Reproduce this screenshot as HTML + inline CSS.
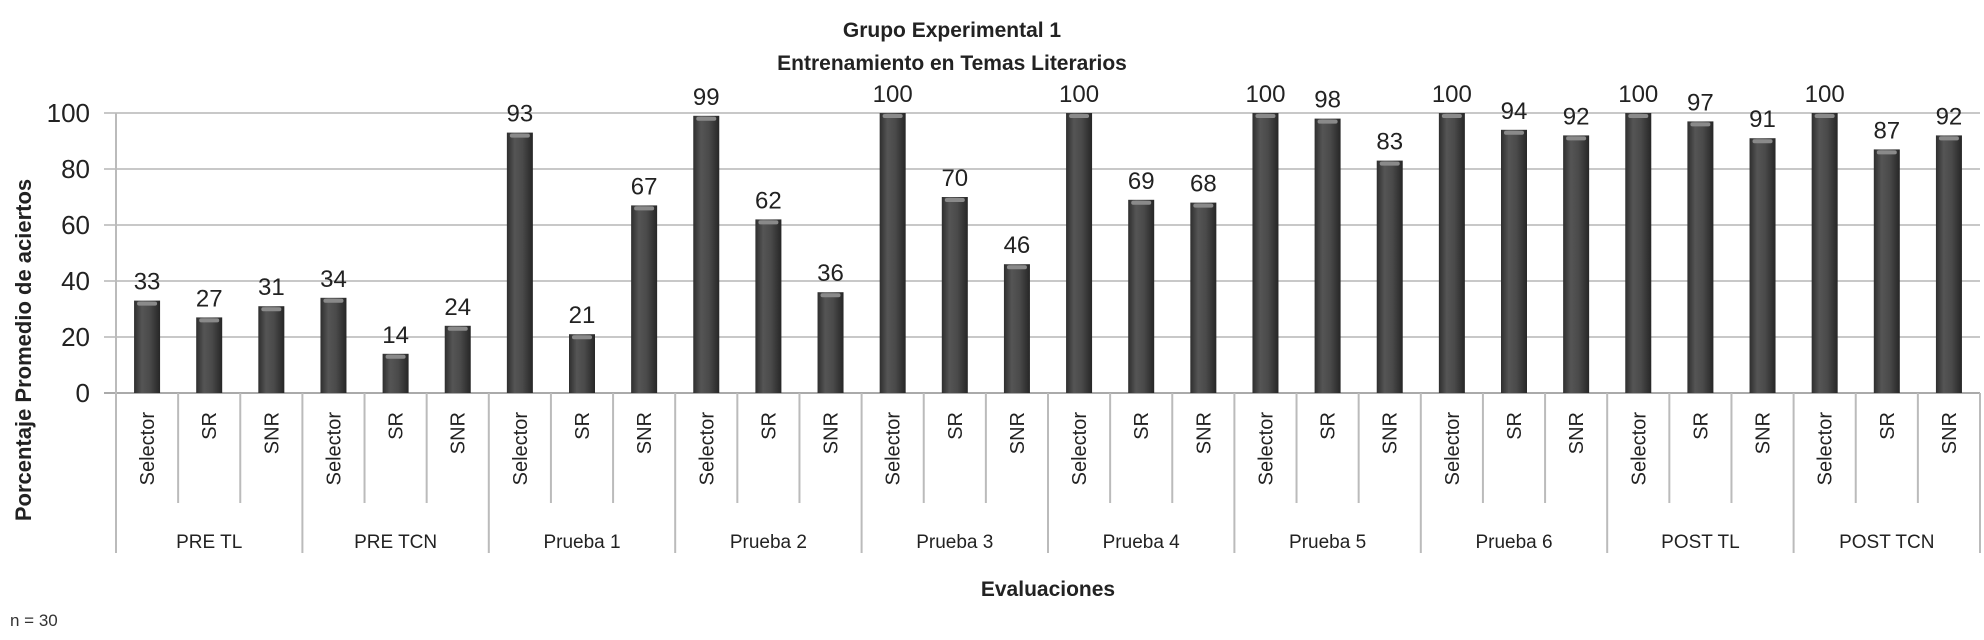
<!DOCTYPE html>
<html><head><meta charset="utf-8"><style>
body{margin:0;background:#fff;width:1984px;height:640px;overflow:hidden}
svg{display:block;font-family:"Liberation Sans",sans-serif}
</style></head><body>
<svg id="chart" width="1984" height="640">
<defs>
<linearGradient id="bg" x1="0" x2="1" y1="0" y2="0">
<stop offset="0" stop-color="#2e2e2e"/><stop offset="0.3" stop-color="#555"/><stop offset="0.6" stop-color="#4a4a4a"/><stop offset="1" stop-color="#262626"/>
</linearGradient>
</defs>
<text x="952" y="37" text-anchor="middle" font-size="21" font-weight="bold" fill="#222">Grupo Experimental 1</text>
<text x="952" y="70" text-anchor="middle" font-size="21" font-weight="bold" fill="#222">Entrenamiento en Temas Literarios</text>
<text transform="translate(31,350) rotate(-90)" text-anchor="middle" font-size="22" font-weight="bold" fill="#222">Porcentaje Promedio de aciertos</text>
<text x="1048" y="596" text-anchor="middle" font-size="21" font-weight="bold" fill="#222">Evaluaciones</text>
<text x="10" y="626" font-size="17" fill="#333">n = 30</text>
<g id="grid"></g><g id="axes"></g><g id="bars"></g>
</svg>
<script>
const groups=["PRE TL","PRE TCN","Prueba 1","Prueba 2","Prueba 3","Prueba 4","Prueba 5","Prueba 6","POST TL","POST TCN"];
const subs=["Selector","SR","SNR"];
const selectorVals=[33,34,93,99,100,100,100,100,100,100];
const srVals=[27,14,21,62,70,69,98,94,97,87];
const snrVals=[31,24,67,36,46,68,83,92,91,92];
const yTicks=[0,20,40,60,80,100];

const NS="http://www.w3.org/2000/svg";
const X0=116,X1=1980,Y0=393,Y100=113;
const y=v=>Y0-(v/100)*(Y0-Y100);
const gw=(X1-X0)/groups.length, sw=gw/3;
function mk(tag,attrs,parent,txt){const e=document.createElementNS(NS,tag);for(const k in attrs)e.setAttribute(k,attrs[k]);if(txt!==undefined)e.textContent=txt;parent.appendChild(e);return e;}
const grid=document.getElementById('grid'),axes=document.getElementById('axes'),bars=document.getElementById('bars');
yTicks.forEach(t=>{
  const l=mk('line',{x1:X0-12,x2:X1,y1:y(t),y2:y(t),stroke:t===0?'#aaa':'#c8c8c8','stroke-width':2},grid);
  
  
  const tx=mk('text',{x:X0-26,y:y(t)+9,'text-anchor':'end','font-size':26,fill:'#222'},axes,String(t));
  
  
});
mk('line',{x1:X0,x2:X0,y1:Y100,y2:553,stroke:'#bbb','stroke-width':2},axes);
const series=[selectorVals,srVals,snrVals];
groups.forEach((g,gi)=>{
  const gx=X0+gi*gw;
  const sep=mk('line',{x1:gx+gw,x2:gx+gw,y1:Y0,y2:553,stroke:'#bbb','stroke-width':2},axes);
  
  
  const gl=mk('text',{x:gx+gw/2,y:548,'text-anchor':'middle','font-size':19,fill:'#222'},axes,g);
  
  
  subs.forEach((s,si)=>{
    const cx=gx+si*sw+sw/2;
    if(si<2){const l=mk('line',{x1:gx+(si+1)*sw,x2:gx+(si+1)*sw,y1:Y0,y2:503,stroke:'#bbb','stroke-width':2},axes);
      
      }
    const sl=mk('text',{transform:`translate(${cx+7},412) rotate(-90)`,'text-anchor':'end','font-size':20,fill:'#222'},axes,s);
    
    
    const v=series[si][gi];
    const b=mk('rect',{x:cx-13,y:y(v),width:26,height:Y0-y(v),fill:'url(#bg)'},bars);
    
    
    const cap=mk('rect',{x:cx-10,y:y(v)+1,width:20,height:4,fill:'#8a8a8a',rx:2},bars);
    
    
    const vl=mk('text',{x:cx,y:y(v)-11,'text-anchor':'middle','font-size':24,fill:'#222'},bars,String(v));
    
    
  });
});
</script>
</body></html>
